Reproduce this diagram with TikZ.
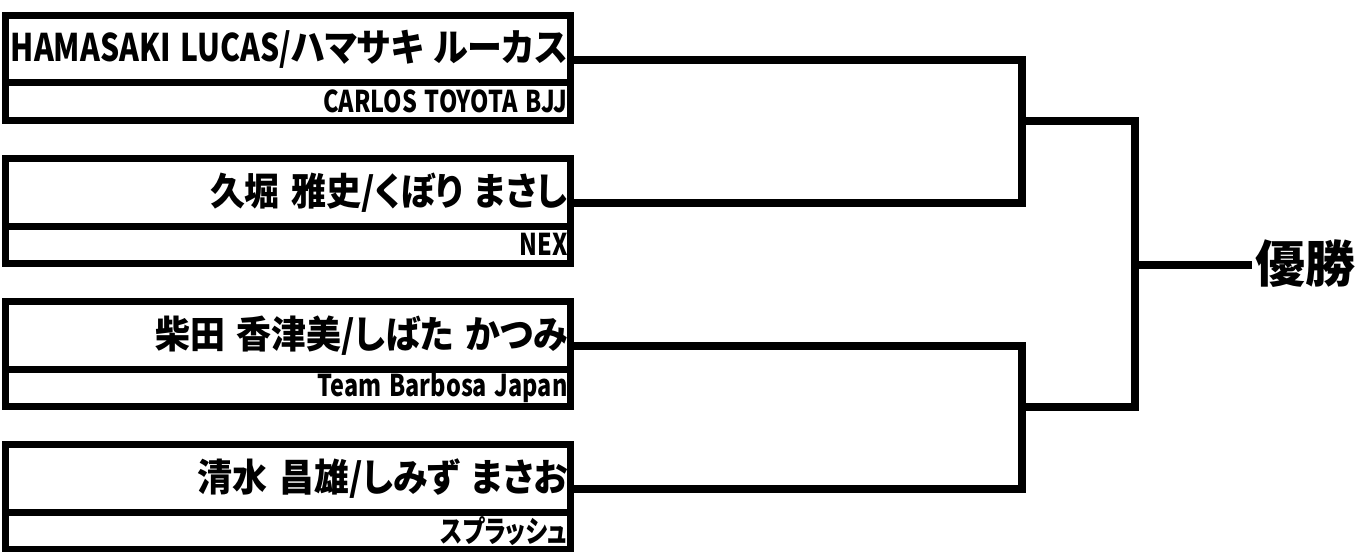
\documentclass[tikz,border=0pt]{standalone}
\usepackage{fontspec}
\usepackage{graphicx}
\setmainfont{Noto Sans CJK JP}[CharacterWidth=AlternateProportional]
\usetikzlibrary{positioning}

\newcommand{\entrant}[1]{\scalebox{0.92}[1]{#1}}
\newcommand{\romaji}[1]{\scalebox{0.86}[1]{#1}}
\newcommand{\team}[1]{\scalebox{0.78}[1]{#1}}

\begin{document}
\begin{tikzpicture}[
    x=0.5pt, y=-0.5pt,
    node distance=19pt,
    namebox/.style={rectangle, draw, line width=3.5pt, outer sep=0pt, minimum width=282.75pt, minimum height=33.75pt, text width=279.75pt, inner xsep=1.5pt, inner ysep=0pt, align=right, font=\bfseries\fontsize{19}{19}\selectfont},
    teambox/.style={namebox, minimum height=18.75pt, font=\bfseries\fontsize{15}{15}\selectfont},
    bracket/.style={line width=4pt, line join=miter}
]
\useasboundingbox (0,0) rectangle (1358,551);
\node[namebox] (n1) at (287.75,49.25) {\entrant{\romaji{HAMASAKI LUCAS/}ハマサキ ルーカス}};
\node[teambox, below=0pt of n1] (t1) {\team{CARLOS TOYOTA BJJ}};
\node[namebox, below=of t1] (n2) {\entrant{久堀 雅史/くぼり まさし}};
\node[teambox, below=0pt of n2] (t2) {\team{NEX}};
\node[namebox, below=of t2] (n3) {\entrant{柴田 香津美/しばた かつみ}};
\node[teambox, below=0pt of n3] (t3) {\team{Team Barbosa Japan}};
\node[namebox, below=of t3] (n4) {\entrant{清水 昌雄/しみず まさお}};
\node[teambox, below=0pt of n4] (t4) {\team{スプラッシュ}};

\node[anchor=west, inner sep=1.5pt, font=\bfseries\fontsize{25}{25}\selectfont] (win) at (1252,264) {優勝};

\coordinate (e1) at ([yshift=-5.6pt]n1.east);
\coordinate (e2) at ([yshift=-5.6pt]n2.east);
\coordinate (e3) at ([yshift=-5.6pt]n3.east);
\coordinate (e4) at ([yshift=-5.6pt]n4.east);
\coordinate (r1) at (1022,0 |- t1.south);
\coordinate (r2) at (1022,0 |- t3.south);
\coordinate (f) at (1134.5,264.5);

\draw[bracket] (e1) -| (r1) |- (e2);
\draw[bracket] (e3) -| (r2) |- (e4);
\draw[bracket] (r1) -| (f) |- (r2);
\draw[bracket] (f) -- (f -| win.west);
\end{tikzpicture}
\end{document}
